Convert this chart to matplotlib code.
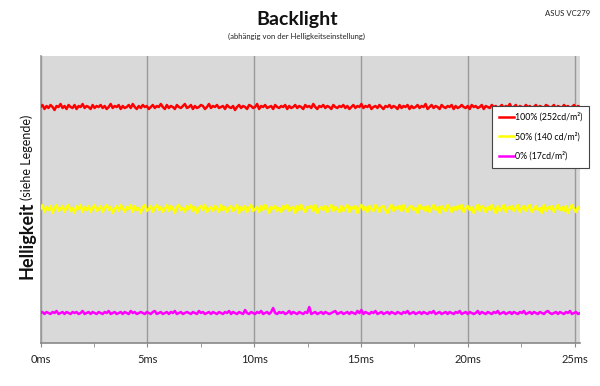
import numpy as np
import matplotlib
matplotlib.use("Agg")
import matplotlib.pyplot as plt

plt.rcParams['font.family'] = ['Lato', 'DejaVu Sans']

# ---- data (relative brightness units) ----
red_100 = [
    236,238,234,237,235,238,236,233,237,236,239,235,237,234,238,236,235,238,234,237,236,239,235,237,236,234,238,235,237,236,
    238,235,237,234,236,239,235,237,236,238,234,237,235,236,238,235,239,236,234,237,235,238,236,237,234,236,238,235,237,236,
    239,236,234,238,235,237,236,234,238,236,235,237,239,235,236,238,234,237,235,236,238,237,234,236,239,235,237,236,238,235,
    236,237,234,238,236,235,237,233,236,238,235,237,236,234,238,237,235,236,239,234,237,236,238,235,236,237,234,238,236,235,
    237,236,238,234,237,235,236,238,235,237,236,234,238,236,237,235,239,236,234,237,236,238,235,237,236,234,238,236,235,237,
    236,238,235,237,234,236,238,235,237,236,239,235,237,236,238,234,236,237,235,238,236,234,237,236,238,235,237,236,234,238,
    235,237,236,238,234,237,235,236,238,235,237,236,239,234,236,238,235,237,236,234,238,236,235,237,236,238,234,237,235,236,
    238,236,235,237,234,238,236,237,235,236,238,234,237,236,235,238,236,237,234,236,238,235,237,236,239,235,236,238,234,237,
    236,235,238,236,237,234,236,238,235,237,236,234,238,237,235,236,238,234,237,236,235,238,236,237,234,236,238,235,237,236]
yellow_50 = [
    134,138,131,136,133,137,130,135,138,132,134,137,131,136,138,132,135,130,137,134,138,131,136,133,137,131,135,138,132,134,
    137,131,135,138,133,136,130,134,137,132,138,135,131,136,134,138,131,137,133,135,130,136,138,132,134,137,131,135,138,133,
    136,131,134,138,132,137,135,130,136,138,133,135,131,137,134,138,132,136,130,135,137,133,138,131,134,136,132,137,135,131,
    138,133,136,131,135,137,132,134,138,130,136,133,137,131,135,138,132,134,136,131,137,133,138,135,130,136,134,137,132,135,
    131,137,134,138,132,135,136,130,137,133,138,134,131,136,135,137,132,138,130,134,136,133,137,131,135,138,132,136,134,131,
    137,132,135,138,131,136,134,137,130,135,138,133,136,131,137,134,132,138,135,131,136,137,133,130,135,138,132,136,134,137,
    132,138,134,131,136,137,133,135,130,138,134,136,132,137,131,135,138,133,136,130,137,134,132,138,135,131,136,133,137,134,
    138,131,135,137,133,136,130,134,138,132,137,135,131,136,133,138,134,130,137,132,135,138,131,136,134,137,132,135,138,131,
    135,137,132,136,138,131,134,137,133,135,130,138,132,136,134,137,131,135,138,133,136,132,137,130,135,138,134,131,136,133]
magenta_0 = [
    30,31,29,31,30,29,31,30,32,29,30,31,29,31,30,29,31,30,31,29,30,32,29,30,31,29,31,30,29,31,
    30,29,31,30,32,29,30,31,29,30,31,29,31,30,29,32,30,31,29,30,31,30,29,31,30,29,31,32,29,30,
    31,29,30,31,29,31,30,32,29,30,31,29,30,31,30,29,31,30,29,32,30,31,29,30,31,29,31,30,29,31,
    30,29,31,30,32,29,31,30,29,31,30,29,33,30,29,31,30,29,31,30,32,29,30,31,29,31,35,30,29,31,
    30,31,29,30,32,29,31,30,29,31,30,29,31,30,36,29,30,31,29,30,31,29,31,30,29,30,31,32,29,30,
    31,29,30,31,29,31,30,29,32,30,33,29,31,30,29,31,30,32,29,30,31,29,30,31,29,31,30,29,31,30,
    29,31,30,32,29,30,31,29,30,31,29,31,30,29,31,30,32,29,30,31,29,30,31,29,31,30,29,31,30,32,
    29,30,31,29,31,30,29,30,32,29,31,30,29,31,30,29,31,30,32,29,30,31,29,30,31,29,31,30,29,31,
    30,32,29,30,31,29,31,30,29,31,30,29,31,32,30,29,30,31,29,31,30,29,31,30,32,29,30,31,29,30]
t_end_ms = 25.25
xticks = [0, 5, 10, 15, 20, 25]
xticklabels = ["0ms", "5ms", "10ms", "15ms", "20ms", "25ms"]
labels = ["100% (252cd/m²)", "50% (140 cd/m²)", "0% (17cd/m²)"]
colors = ["#ff0000", "#ffff00", "#ff00ff"]

W, H = 600, 386
fig = plt.figure(figsize=(W / 100, H / 100), dpi=100)
fig.patch.set_facecolor("white")
ax = fig.add_axes([40.5 / W, 1 - 343 / H, (580 - 40.5) / W, (343 - 56) / H])
ax.set_facecolor("#d9d9d9")

series = [red_100, yellow_50, magenta_0]
handles = []
for vals, c, lab in zip(series, colors, labels):
    t = np.linspace(0, t_end_ms, len(vals))
    h, = ax.plot(t, vals, color=c, lw=1.8, label=lab, zorder=3)
    handles.append(h)

ax.set_xlim(0, t_end_ms)
ax.set_ylim(0, 287)
ax.set_yticks([])
ax.set_xticks(xticks)
ax.set_xticklabels(xticklabels, fontsize=8, color="#222222")
ax.set_xticks([2.5, 7.5, 12.5, 17.5, 22.5], minor=True)
ax.tick_params(axis="x", which="both", direction="out", length=3, color="#888888", pad=5)
ax.grid(axis="x", color="#9a9a9a", lw=1.0, zorder=1)
for s in ["top", "right"]:
    ax.spines[s].set_visible(False)
ax.spines["left"].set_color("#999999")
ax.spines["bottom"].set_color("#888888")
ax.spines["left"].set_linewidth(1.2)
ax.spines["bottom"].set_linewidth(1.2)

leg = ax.legend(handles=handles, loc="upper left",
                bbox_to_anchor=(492 / W, 1 - 106 / H), bbox_transform=fig.transFigure,
                fontsize=6.3, frameon=True, fancybox=False, handlelength=1.8,
                handletextpad=0.1, labelspacing=1.15, borderpad=0.75, borderaxespad=0)
leg.get_frame().set_edgecolor("#444444")
leg.get_frame().set_linewidth(0.8)
leg.get_frame().set_facecolor("white")
leg.get_frame().set_alpha(1)
leg.set_zorder(5)

fig.text(297 / W, 1 - 20 / H, "Backlight", ha="center", va="center",
         fontsize=14, fontweight="bold", color="#111111")
fig.text(297 / W, 1 - 36 / H, "(abhängig von der Helligkeitseinstellung)", ha="center",
         va="center", fontsize=5.6, color="#222222")
fig.text(590 / W, 1 - 13 / H, "ASUS VC279", ha="right", va="center",
         fontsize=5.6, color="#222222")
fig.text(27 / W, 1 - 240 / H, "Helligkeit", rotation=90, ha="center", va="center",
         fontsize=13, fontweight="bold", color="#111111")
fig.text(27 / W, 1 - 157 / H, "(siehe Legende)", rotation=90, ha="center", va="center",
         fontsize=9, color="#111111")

fig.savefig("out.png", dpi=100)
